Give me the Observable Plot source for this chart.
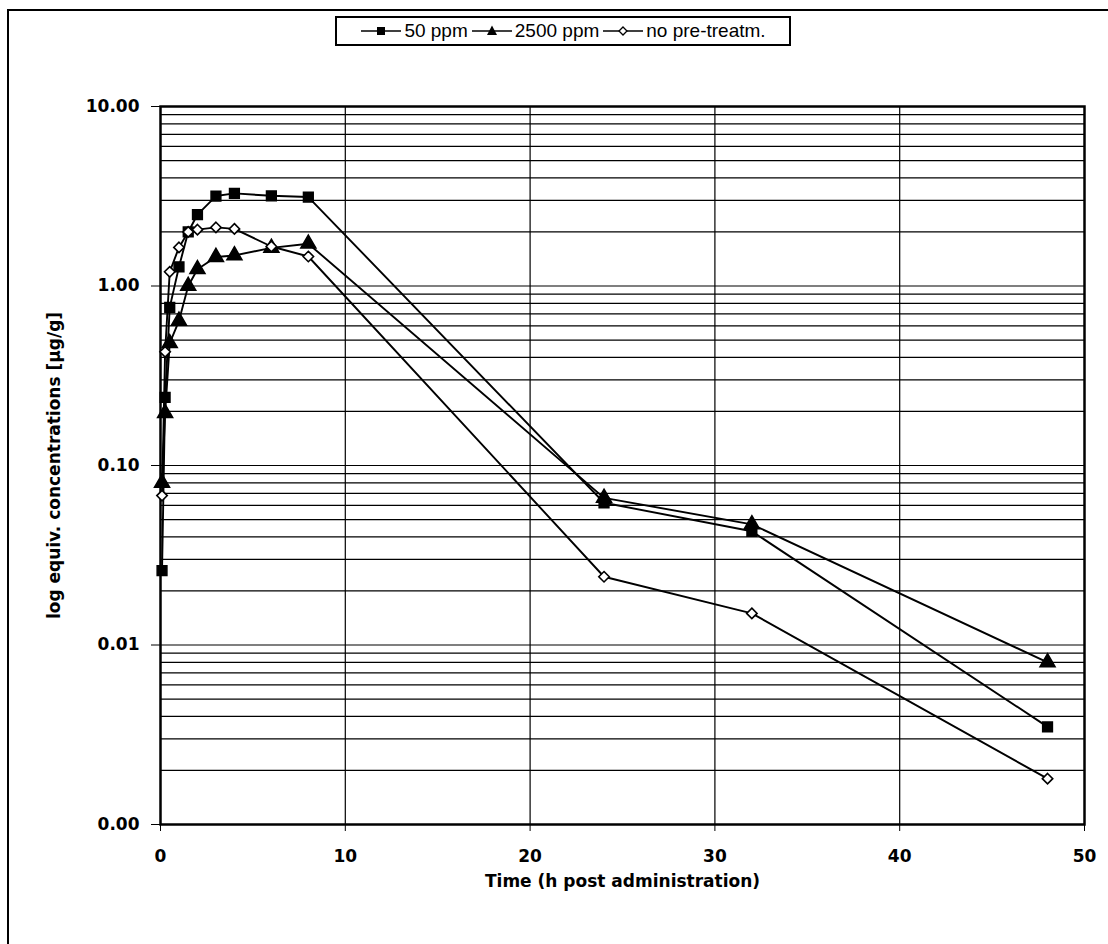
<!DOCTYPE html>
<html>
<head>
<meta charset="utf-8">
<script src="https://cdn.jsdelivr.net/npm/d3@7"></script>
<script src="https://cdn.jsdelivr.net/npm/@observablehq/plot@0.6"></script>
<style>
  html, body { margin: 0; padding: 0; background: #fff; }
  #wrap { position: relative; width: 1108px; height: 944px; overflow: hidden; font-family: "Liberation Sans", Arial, sans-serif; }
  #border { position: absolute; left: 7px; top: 9px; width: 1300px; height: 1300px; border-left: 2px solid #000; border-top: 2px solid #000; }
  #chart { position: absolute; left: 0; top: 0; }
  #legend { position: absolute; left: 335px; top: 16px; height: 26px; width: 452px; border: 2px solid #000; background: #fff;
            display: flex; align-items: center; justify-content: center; gap: 3px; font-size: 19px; color: #000; white-space: nowrap; }
  #legend .item { display: flex; align-items: center; }
  #legend svg { margin-right: 2px; }
</style>
</head>
<body>
<div id="wrap">
  <div id="border"></div>
  <div id="chart"></div>
  <div id="legend"></div>
</div>
<script>
// ---- data ----
const times      = [0.083, 0.25, 0.5, 1, 1.5, 2, 3, 4, 6, 8, 24, 32, 48];
const ppm50      = [0.026, 0.24, 0.76, 1.28, 2.0, 2.5, 3.17, 3.28, 3.18, 3.13, 0.062, 0.043, 0.0035];
const ppm2500    = [0.08, 0.196, 0.48, 0.64, 1.0, 1.24, 1.45, 1.48, 1.63, 1.72, 0.066, 0.047, 0.008];
const noPretreat = [0.068, 0.43, 1.2, 1.64, 2.0, 2.06, 2.12, 2.08, 1.66, 1.46, 0.024, 0.015, 0.0018];
const seriesNames = ["50 ppm", "2500 ppm", "no pre-treatm."];
const xTicks = [0, 10, 20, 30, 40, 50];
const xGrid = [10, 20, 30, 40];
const yTicks = [0.001, 0.01, 0.1, 1, 10];
const yLabel = "log equiv. concentrations [µg/g]";
const xLabel = "Time (h post administration)";

// minor log gridlines 1..9 x each decade
const yGrid = [];
for (const d of [0.001, 0.01, 0.1, 1]) for (let m = 1; m <= 9; m++) yGrid.push(+(m * d).toPrecision(3));
yGrid.push(10);

const seriesValues = [ppm50, ppm2500, noPretreat];
const data = [];
seriesNames.forEach((s, i) => times.forEach((t, j) => data.push({series: s, t, v: seriesValues[i][j]})));

const axisFont = "DejaVu Sans, Liberation Sans, Arial, sans-serif";
const chart = Plot.plot({
  width: 1108,
  height: 944,
  marginLeft: 160,
  marginRight: 24,
  marginTop: 106,
  marginBottom: 120,
  style: {fontFamily: axisFont, fontSize: "17px", fontWeight: "bold", background: "transparent", color: "#000"},
  x: {domain: [0, 50]},
  y: {type: "log", domain: [0.001, 10]},
  marks: [
    Plot.ruleY(yGrid, {stroke: "#000", strokeWidth: 1.2}),
    Plot.ruleX(xGrid, {stroke: "#000", strokeWidth: 1.2}),
    Plot.axisX({ticks: xTicks, tickSize: 7, tickPadding: 18, tickFormat: d => String(d), fontSize: 17, fontWeight: "bold", fontFamily: axisFont,
                label: xLabel, labelAnchor: "center", labelArrow: "none", labelOffset: 62}),
    Plot.axisY({ticks: yTicks, tickFormat: d => d.toFixed(2), tickSize: 9, tickPadding: 12, fontSize: 17, fontWeight: "bold", fontFamily: axisFont,
                label: yLabel, labelAnchor: "center", labelArrow: "none", labelOffset: 113}),
    Plot.frame({stroke: "#000", strokeWidth: 2.5}),
    Plot.line(data, {x: "t", y: "v", z: "series", stroke: "#000", strokeWidth: 1.9}),
    Plot.dot(data.filter(d => d.series === seriesNames[0]), {x: "t", y: "v", symbol: "square", r: 5.5, fill: "#000", stroke: "#000"}),
    Plot.dot(data.filter(d => d.series === seriesNames[1]), {x: "t", y: "v", symbol: "triangle", r: 5.6, fill: "#000", stroke: "#000"}),
    Plot.dot(data.filter(d => d.series === seriesNames[2]), {x: "t", y: "v", symbol: "diamond2", r: 4.7, fill: "#fff", stroke: "#000", strokeWidth: 1.6})
  ]
});
document.getElementById("chart").appendChild(chart);

// legend
const symbols = [
  `<rect x="17" y="5" width="8" height="8" fill="#000"/>`,
  `<path d="M21,3.5 L26,13 L16,13 Z" fill="#000"/>`,
  `<path d="M21,5 L25,9 L21,13 L17,9 Z" fill="#fff" stroke="#000" stroke-width="1.3"/>`
];
const legend = document.getElementById("legend");
seriesNames.forEach((s, i) => {
  const item = document.createElement("span");
  item.className = "item";
  item.innerHTML = `<svg width="42" height="18" viewBox="0 0 42 18"><line x1="1" x2="41" y1="9" y2="9" stroke="#000" stroke-width="1.6"/>${symbols[i]}</svg><span>${s}</span>`;
  legend.appendChild(item);
});
</script>
</body>
</html>
